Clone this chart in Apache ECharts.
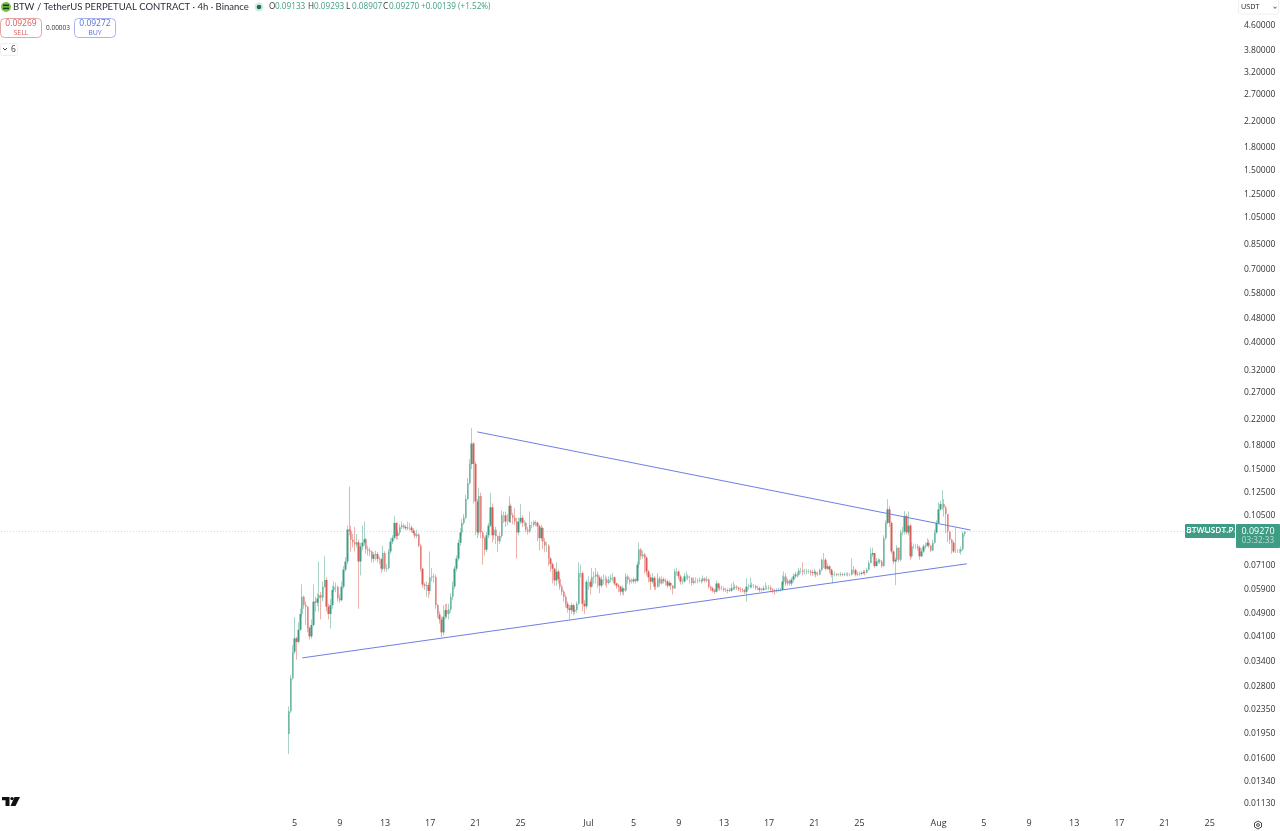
<!DOCTYPE html>
<html>
<head>
<meta charset="utf-8">
<style>html,body{margin:0;padding:0;background:#fff}#c{width:1280px;height:831px}</style>
<script src="https://cdn.jsdelivr.net/npm/echarts@6/dist/echarts.min.js"></script>
</head>
<body>
<div id="c"></div>
<script>
const firstOpen = 0.0194;
const lastPrice = 0.0927;
const closes = [
.0231,.0298,.0366,.0406,.0395,.0434,.0490,.0560,.0525,.0518,
.0440,.0412,.0450,.0539,.0535,.0552,.0567,.0555,.0605,.0637,
.0518,.0490,.0525,.0590,.0605,.0603,.0552,.0545,.0605,.0690,
.0735,.0940,.0930,.0870,.0852,.0838,.0852,.0735,.0826,.0850,
.0872,.0808,.0800,.0794,.0750,.0775,.0778,.0750,.0748,.0695,
.0785,.0695,.0698,.0794,.0857,.0882,.0990,.0895,.0920,.0957,
.0970,.0960,.0950,.0955,.0955,.0935,.0915,.0895,.0905,.0830,
.0695,.0615,.0610,.0612,.0585,.0650,.0655,.0652,.0525,.0488,
.0470,.0425,.0480,.0505,.0490,
.0507,.0560,.0606,.0695,.0752,.0849,.0920,.0990,.1030,.1190,
.1345,.1560,.1828,.1560,.1168,.0920,.1220,.0920,.0880,.0805,
.0900,.0970,.1117,.0900,.0940,.0895,.0860,.0895,.1050,.1050,
.1000,.1000,.1130,.1050,.1030,.1000,.0920,.1000,.1030,.0990,
.0990,.0940,.0926,.0975,.0975,.0995,.0990,.0965,.0880,.0952,
.0857,.0830,.0830,.0752,.0720,.0695,.0635,.0680,.0642,.0605,
.0582,.0560,.0530,.0512,.0505,.0525,.0499,.0505,.0530,.0672,
.0672,.0530,.0520,.0628,.0628,.0605,.0652,.0655,.0665,.0650,
.0610,.0640,.0640,.0638,.0623,.0640,.0648,.0650,.0620,.0610,
.0605,.0582,.0597,.0587,.0655,.0640,.0629,.0630,.0640,.0633,
.0717,.0807,.0765,.0775,.0757,.0680,.0650,.0629,.0648,.0605,
.0605,.0645,.0620,.0640,.0633,.0630,.0610,.0623,.0610,.0597,
.0680,.0680,.0655,.0629,.0629,.0655,.0655,.0648,.0648,.0623,
.0633,.0633,.0633,.0635,.0633,.0645,.0633,.0640,.0605,.0597,
.0587,.0582,.0620,.0600,.0597,.0597,.0590,.0588,.0585,.0587,
.0597,.0600,.0605,.0600,.0592,.0590,.0587,.0582,.0605,.0605,
.0610,.0608,.0608,.0600,.0597,.0590,.0590,.0597,.0597,.0598,
.0600,.0592,.0587,.0585,.0587,.0590,.0590,.0629,.0655,.0620,
.0633,.0620,
.0639,.0655,.0665,.0663,.0685,.0685,.0677,.0677,.0680,.0680,
.0677,.0672,.0677,.0663,.0665,.0688,.0745,.0745,.0695,.0708,
.0690,.0663,.0667,.0667,.0663,.0663,.0665,.0663,.0665,.0665,
.0663,.0663,.0690,.0688,.0665,.0667,.0668,.0672,.0677,.0675,
.0690,.0727,.0775,.0785,.0710,.0735,.0740,.0735,.0710,.0880,
.0990,.1100,.0990,.0794,.0735,.0745,.0818,.0745,.0920,.0926,
.1045,.0920,.0970,.0765,.0826,.0826,.0826,.0818,.0765,.0794,
.0826,.0830,.0850,.0830,.0800,.0850,.0920,.0990,.1100,.1145,
.1145,.1115,.1060,.0926,.0870,.0850,.0794,.0794,.0794,.0794,
.0808,.0913,.0927
];
const highs = [
.0240,.0305,.0385,.0478,.0410,.0460,.0510,.0616,.0565,.0540,
.0520,.0445,.0470,.0616,.0560,.0575,.0735,.0580,.0630,.0765,
.0650,.0530,.0550,.0610,.0630,.0625,.0610,.0570,.0630,.0710,
.0760,.0970,.1310,.0970,.0910,.0960,.0910,.0870,.0850,.0970,
.1001,.0880,.0830,.0820,.0800,.0790,.0800,.0790,.0765,.0755,
.0830,.0795,.0720,.0810,.0880,.0900,.1045,.0995,.0940,.0980,
.1000,.0985,.0975,.1000,.0990,.0970,.0950,.0925,.0940,.0915,
.0840,.0700,.0625,.0630,.0625,.0794,.0700,.0670,.0665,.0530,
.0500,.0480,.0525,.0530,.0530,
.0530,.0575,.0630,.0710,.0770,.0870,.0950,.1020,.1060,.1230,
.1400,.1620,.2060,.1850,.1590,.1190,.1300,.1250,.0930,.0890,
.0925,.0990,.1250,.1150,.0960,.0960,.0900,.0920,.1090,.1080,
.1080,.1060,.1215,.1150,.1070,.1110,.1030,.1030,.1145,.1050,
.1010,.1000,.0960,.1081,.1000,.1010,.1010,.1000,.0975,.0975,
.0960,.0880,.0855,.0840,.0760,.0730,.0700,.0730,.0690,.0650,
.0615,.0590,.0570,.0540,.0525,.0535,.0530,.0520,.0540,.0730,
.0717,.0680,.0545,.0640,.0655,.0640,.0700,.0680,.0700,.0680,
.0660,.0655,.0665,.0660,.0650,.0655,.0665,.0672,.0655,.0625,
.0620,.0610,.0610,.0600,.0672,.0665,.0650,.0645,.0650,.0645,
.0735,.0852,.0815,.0800,.0785,.0765,.0690,.0665,.0672,.0655,
.0625,.0672,.0655,.0655,.0650,.0645,.0640,.0635,.0625,.0612,
.0695,.0700,.0685,.0665,.0645,.0672,.0680,.0665,.0660,.0650,
.0650,.0650,.0645,.0650,.0645,.0660,.0650,.0655,.0645,.0610,
.0605,.0595,.0635,.0625,.0610,.0610,.0605,.0600,.0597,.0600,
.0620,.0630,.0615,.0612,.0605,.0602,.0600,.0595,.0645,.0620,
.0650,.0625,.0618,.0615,.0610,.0605,.0600,.0610,.0625,.0610,
.0612,.0610,.0598,.0595,.0597,.0600,.0600,.0660,.0680,.0672,
.0645,.0640,
.0650,.0672,.0680,.0678,.0700,.0700,.0730,.0695,.0695,.0692,
.0690,.0688,.0695,.0685,.0680,.0695,.0752,.0785,.0755,.0725,
.0715,.0695,.0680,.0680,.0672,.0672,.0678,.0672,.0675,.0675,
.0675,.0672,.0752,.0710,.0695,.0680,.0680,.0682,.0690,.0688,
.0700,.0740,.0818,.0818,.0785,.0755,.0755,.0750,.0745,.0900,
.1010,.1190,.1130,.1000,.0800,.0760,.0835,.0820,.0940,.0960,
.1085,.1060,.1081,.0985,.0850,.0845,.0840,.0840,.0830,.0815,
.0840,.0850,.0880,.0870,.0835,.0870,.0940,.1010,.1160,.1175,
.1275,.1190,.1130,.1060,.0930,.0875,.0860,.0955,.0810,.0810,
.0825,.0925,.09293
];
const lows = [
.0166,.0228,.0295,.0360,.0344,.0390,.0430,.0480,.0510,.0450,
.0425,.0402,.0405,.0445,.0499,.0520,.0499,.0470,.0540,.0600,
.0500,.0470,.0438,.0510,.0580,.0580,.0540,.0535,.0540,.0595,
.0680,.0720,.0900,.0794,.0820,.0795,.0820,.0510,.0660,.0800,
.0830,.0780,.0770,.0765,.0730,.0730,.0740,.0730,.0720,.0675,
.0685,.0680,.0680,.0690,.0780,.0840,.0870,.0870,.0870,.0900,
.0945,.0945,.0935,.0935,.0935,.0920,.0900,.0880,.0880,.0820,
.0680,.0600,.0590,.0560,.0555,.0570,.0630,.0625,.0510,.0475,
.0455,.0410,.0415,.0470,.0475,
.0470,.0495,.0545,.0595,.0680,.0740,.0830,.0900,.0975,.1020,
.1180,.1330,.1500,.1150,.0900,.0880,.0900,.0880,.0717,.0770,
.0790,.0880,.0960,.0850,.0870,.0840,.0790,.0840,.0880,.0990,
.0960,.0970,.0990,.0990,.0980,.0975,.0752,.0900,.0980,.0960,
.0965,.0920,.0905,.0915,.0950,.0960,.0965,.0860,.0800,.0860,
.0810,.0790,.0790,.0710,.0680,.0620,.0610,.0610,.0620,.0590,
.0565,.0540,.0515,.0495,.0470,.0490,.0485,.0490,.0495,.0525,
.0650,.0500,.0490,.0510,.0590,.0570,.0600,.0620,.0620,.0600,
.0575,.0600,.0615,.0610,.0600,.0615,.0625,.0630,.0610,.0595,
.0580,.0565,.0570,.0565,.0580,.0620,.0615,.0620,.0620,.0620,
.0625,.0700,.0745,.0750,.0670,.0660,.0625,.0590,.0620,.0590,
.0590,.0600,.0605,.0615,.0620,.0610,.0600,.0605,.0590,.0570,
.0595,.0660,.0640,.0615,.0615,.0625,.0640,.0635,.0620,.0610,
.0615,.0620,.0620,.0625,.0620,.0625,.0625,.0625,.0595,.0585,
.0578,.0572,.0578,.0590,.0585,.0588,.0582,.0580,.0575,.0580,
.0580,.0590,.0590,.0590,.0585,.0580,.0578,.0572,.0539,.0590,
.0597,.0598,.0598,.0590,.0588,.0580,.0582,.0585,.0590,.0590,
.0590,.0580,.0575,.0568,.0578,.0582,.0582,.0585,.0615,.0610,
.0610,.0610,
.0608,.0625,.0645,.0650,.0655,.0670,.0660,.0665,.0665,.0668,
.0660,.0658,.0660,.0650,.0655,.0660,.0680,.0700,.0685,.0690,
.0670,.0650,.0620,.0655,.0655,.0655,.0655,.0655,.0655,.0658,
.0655,.0655,.0660,.0670,.0655,.0655,.0658,.0660,.0665,.0660,
.0670,.0685,.0725,.0760,.0700,.0705,.0725,.0720,.0700,.0705,
.0870,.0980,.0960,.0780,.0720,.0612,.0735,.0730,.0735,.0900,
.0905,.0905,.0900,.0745,.0755,.0810,.0810,.0800,.0745,.0760,
.0785,.0810,.0825,.0815,.0790,.0795,.0845,.0910,.0985,.1090,
.1095,.1040,.0915,.0855,.0840,.0780,.0785,.0785,.0785,.0785,
.0775,.0800,.08907
];
const priceTicks = [4.6,3.8,3.2,2.7,2.2,1.8,1.5,1.25,1.05,.85,.7,.58,.48,.4,.32,.27,.22,.18,.15,.125,.105,.071,.059,.049,.041,.034,.028,.0235,.0195,.016,.0134,.0113];
const timeLabels = {'06-05':'5','06-09':'9','06-13':'13','06-17':'17','06-21':'21','06-25':'25','07-01':'Jul','07-05':'5','07-09':'9','07-13':'13','07-17':'17','07-21':'21','07-25':'25','08-01':'Aug','08-05':'5','08-09':'9','08-13':'13','08-17':'17','08-21':'21','08-25':'25'};
const upperLine = [['06-21 04', .2000], ['08-03 20', .0937]];
const lowerLine = [['06-05 16', .0349], ['08-03 12', .0722]];

const startMs = Date.UTC(2025, 4, 10);
const slots = 657;
const firstCandleSlot = 153;
const pad = n => String(n).padStart(2, '0');
const cats = [];
for (let i = 0; i < slots; i++) {
  const d = new Date(startMs + i * 4 * 3600e3);
  cats.push(pad(d.getUTCMonth() + 1) + '-' + pad(d.getUTCDate()) + ' ' + pad(d.getUTCHours()));
}
const wicks = [], bodies = [];
closes.forEach((c, i) => {
  const o = i ? closes[i - 1] : firstOpen;
  const s = cats[firstCandleSlot + i];
  wicks.push([s, o, c, lows[i], highs[i]]);
  bodies.push([s, o, c, Math.min(o, c), Math.max(o, c)]);
});
const GREEN = '#3f9c84', RED = '#d95c57', FONT = '"Open Sans", sans-serif';
const txt = (x, y, t, fill, size, extra) => ({type:'text', x, y, silent:true, style:Object.assign({text:t, fill, font:(size||9)+'px '+FONT, textVerticalAlign:'middle'}, extra||{})});
const box = (x, y, w, h, fill, stroke, r) => ({type:'rect', silent:true, shape:{x,y,width:w,height:h,r:r||0}, style:{fill:fill||'none', stroke:stroke||'none', lineWidth:stroke?1:0}});
const poly = (pts, fill) => ({type:'polygon', silent:true, shape:{points:pts}, style:{fill}});

const graphics = [
  {type:'circle', shape:{cx:6,cy:7,r:5}, style:{fill:'#7cc242'}},
  box(3,4.5,6,1.6,'#1d3a1d'), box(3,7.6,6,1.6,'#1d3a1d'),
  txt(13,7,'BTW / TetherUS PERPETUAL CONTRACT · 4h · Binance','#2a2e39',9.5,{font:'9.5px Lato, sans-serif'}),
  {type:'circle', shape:{cx:259,cy:7,r:4.5}, style:{fill:'#d4ece4'}},
  {type:'circle', shape:{cx:259,cy:7,r:2.3}, style:{fill:'#1f6d58'}},
  txt(269,7,'O','#333',8.2), txt(275,7,'0.09133',GREEN,8.2),
  txt(308,7,'H','#333',8.2), txt(314,7,'0.09293',GREEN,8.2),
  txt(346,7,'L','#333',8.2), txt(352,7,'0.08907',GREEN,8.2),
  txt(383,7,'C','#333',8.2), txt(389,7,'0.09270',GREEN,8.2),
  txt(421,7,'+0.00139 (+1.52%)',GREEN,8.2),
  box(0.5,18.5,41,19,'#fff','#e3a6a3',4),
  txt(21,24,'0.09269',RED,8.5,{textAlign:'center'}), txt(21,32.5,'SELL',RED,7,{textAlign:'center'}),
  txt(58,28,'0.00003','#333',6.5,{textAlign:'center'}),
  box(74.5,18.5,41,19,'#fff','#a9b4ee',4),
  txt(95,24,'0.09272','#5a6fdc',8.5,{textAlign:'center'}), txt(95,32.5,'BUY','#5a6fdc',7,{textAlign:'center'}),
  box(0.5,43.5,17,12,'#fff','#eeeeee',2),
  {type:'polyline', silent:true, shape:{points:[[3,48],[5,50],[7,48]]}, style:{stroke:'#444',fill:'none',lineWidth:1}},
  txt(11,49.5,'6','#333',8.5),
  box(1238.5,-1,40,15,'#fff','#f0f0f0',2),
  txt(1241,7,'USDT','#222',7.2),
  {type:'polyline', silent:true, shape:{points:[[1273.5,7],[1275,8.3],[1276.5,7]]}, style:{stroke:'#444',fill:'none',lineWidth:1}},
  box(1185,524,50,14,GREEN,null,1),
  txt(1210,531,'BTWUSDT.P','#fff',8.4,{textAlign:'center',font:'600 8.4px '+FONT}),
  box(1236,524,44,24,GREEN,null,1),
  txt(1258,531.5,'0.09270','#fff',9,{textAlign:'center'}),
  txt(1258,541,'03:32:33','#b9ddd2',8.2,{textAlign:'center'}),
  poly([[2,797],[9.5,797],[9.5,806],[5.5,806],[5.5,800.3],[2,800.3]],'#111'),
  {type:'circle', shape:{cx:12,cy:798.6,r:1.7}, style:{fill:'#111'}},
  poly([[14.5,797],[20,797],[15.5,806],[10.5,806]],'#111'),
  {type:'polygon', silent:true, shape:{points:[[1258,821],[1261.5,823],[1261.5,827],[1258,829],[1254.5,827],[1254.5,823]]}, style:{fill:'none',stroke:'#333',lineWidth:0.9}},
  {type:'circle', shape:{cx:1258,cy:825,r:1.4}, style:{fill:'none',stroke:'#333',lineWidth:0.9}}
];

const chart = echarts.init(document.getElementById('c'), null, {renderer:'canvas'});
chart.setOption({
  animation:false,
  backgroundColor:'#fff',
  grid:{left:0, right:43, top:1, bottom:17, containLabel:false},
  xAxis:{
    type:'category', data:cats, boundaryGap:true,
    axisLine:{show:false}, axisTick:{show:false}, splitLine:{show:false},
    axisLabel:{
      margin:5, color:'#333', fontSize:9, fontFamily:FONT, hideOverlap:false,
      interval:(i, v) => (v.slice(0,5) in timeLabels) && v.slice(6) === '00',
      formatter:v => timeLabels[v.slice(0,5)] || ''
    }
  },
  yAxis:{
    type:'log', logBase:10, position:'right', min:0.01045, max:5.58,
    axisLine:{show:false}, axisTick:{show:false}, splitLine:{show:false}, minorTick:{show:false},
    axisLabel:{
      inside:false, margin:7, color:'#333', fontSize:8.5, fontFamily:FONT, showMinLabel:true, showMaxLabel:true,
      customValues:priceTicks, formatter:v => (+v).toFixed(5)
    }
  },
  series:[
    {type:'line', data:[[cats[0], lastPrice], [cats[slots-1], lastPrice]], symbol:'none', silent:true, z:1,
     lineStyle:{color:'#c9dfd8',type:[1,2],width:1}},
    {type:'candlestick', name:'wick', data:wicks, barWidth:1, silent:true,
     encode:{x:0,y:[1,2,3,4]},
     itemStyle:{color:'#a8d3c6',color0:'#eeb0ac',borderColor:'#a8d3c6',borderColor0:'#eeb0ac',borderWidth:1}},
    {type:'candlestick', name:'body', data:bodies, barWidth:2, silent:true,
     encode:{x:0,y:[1,2,3,4]},
     itemStyle:{color:GREEN,color0:RED,borderColor:GREEN,borderColor0:RED,borderWidth:0}},
    {type:'line', data:upperLine, symbol:'none', silent:true, lineStyle:{color:'#6d7fe3',width:1}},
    {type:'line', data:lowerLine, symbol:'none', silent:true, lineStyle:{color:'#6d7fe3',width:1}}
  ],
  graphic:graphics
});
</script>
</body>
</html>
